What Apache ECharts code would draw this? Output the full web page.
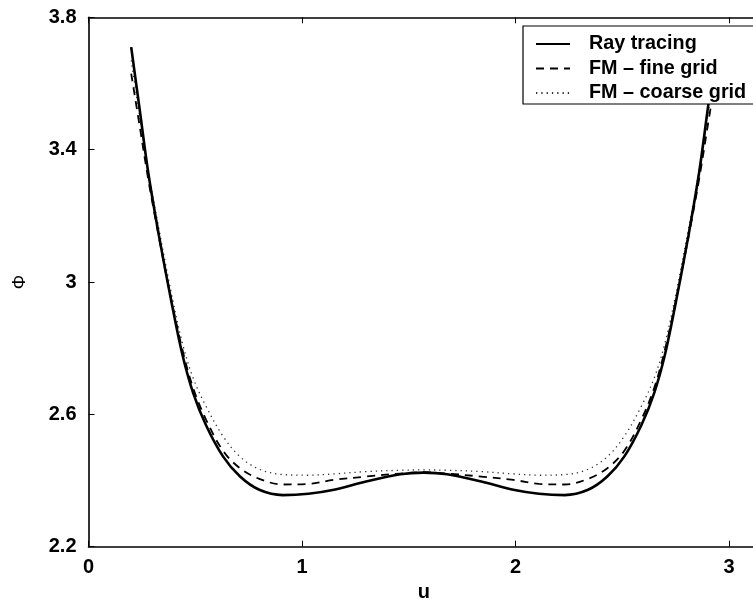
<!DOCTYPE html>
<html>
<head>
<meta charset="utf-8">
<script src="https://cdn.jsdelivr.net/npm/echarts@6/dist/echarts.min.js"></script>
<style>
  html, body { margin: 0; padding: 0; background: #fff; }
  #chart { width: 753px; height: 601px; }
</style>
</head>
<body>
<div id="chart"></div>
<script>
// Sample positions along u
const uValues = [0.20, 0.24, 0.28, 0.33, 0.39, 0.44, 0.49, 0.55, 0.63, 0.71, 0.80, 0.91, 1.03, 1.15, 1.30, 1.46, 1.57,
                 1.68, 1.84, 1.99, 2.11, 2.23, 2.34, 2.43, 2.51, 2.59, 2.65, 2.70, 2.75, 2.81, 2.86, 2.90, 2.94];

// Phi computed by each method
const rayTracing = [3.71, 3.52, 3.33, 3.14, 2.935, 2.78, 2.665, 2.568, 2.473, 2.412, 2.372, 2.356, 2.360, 2.372, 2.397, 2.419, 2.424,
                    2.419, 2.397, 2.372, 2.360, 2.356, 2.372, 2.412, 2.473, 2.568, 2.665, 2.78, 2.935, 3.14, 3.33, 3.52, 3.71];
const fmFine = [3.63, 3.47, 3.31, 3.135, 2.94, 2.795, 2.68, 2.585, 2.49, 2.437, 2.405, 2.388, 2.390, 2.402, 2.412, 2.421, 2.425,
                2.421, 2.412, 2.402, 2.390, 2.388, 2.405, 2.437, 2.49, 2.585, 2.68, 2.795, 2.94, 3.135, 3.31, 3.47, 3.63];
const fmCoarse = [3.67, 3.50, 3.335, 3.16, 2.96, 2.815, 2.71, 2.625, 2.534, 2.472, 2.434, 2.418, 2.416, 2.420, 2.427, 2.431, 2.432,
                  2.431, 2.427, 2.420, 2.416, 2.418, 2.434, 2.472, 2.534, 2.625, 2.71, 2.815, 2.96, 3.16, 3.335, 3.50, 3.67];

const seriesNames = ['Ray tracing', 'FM \u2013 fine grid', 'FM \u2013 coarse grid'];
const xTicks = [0, 1, 2, 3];
const yTicks = [2.2, 2.6, 3, 3.4, 3.8];

const FONT = 'Liberation Sans, Arial, Helvetica, sans-serif';
const pairs = (ys) => uValues.map((u, i) => [u, ys[i]]);

const chart = echarts.init(document.getElementById('chart'), null, { renderer: 'canvas' });

const axisLineStyle = { color: '#000', width: 1.6 };

chart.setOption({
  animation: false,
  backgroundColor: '#fff',
  grid: { left: 88.5, top: 17.3, width: 670.7, height: 529.4, containLabel: false, outerBoundsMode: 'none' },
  legend: {
    orient: 'vertical',
    left: 523,
    top: 26,
    padding: [8, 12, 1, 12],
    itemWidth: 34,
    itemHeight: 14,
    itemGap: 4.5,
    backgroundColor: '#fff',
    borderColor: '#000',
    borderWidth: 1.2,
    borderRadius: 0,
    itemStyle: { opacity: 0 },
    textStyle: { fontFamily: FONT, fontWeight: 'bold', fontSize: 19.8, lineHeight: 20, color: '#000', padding: [0, 0, 0, 14] },
    data: seriesNames
  },
  xAxis: [{
    type: 'value',
    min: 0,
    max: Math.PI,
    interval: 1,
    name: 'u',
    nameLocation: 'middle',
    nameGap: 36,
    nameTextStyle: { fontFamily: FONT, fontWeight: 'bold', fontSize: 20, color: '#000' },
    axisLine: { lineStyle: axisLineStyle },
    axisTick: { inside: true, length: 6, lineStyle: { color: '#000', width: 1 }, customValues: xTicks },
    axisLabel: { fontFamily: FONT, fontWeight: 'bold', fontSize: 20, color: '#000', margin: 11, customValues: xTicks },
    splitLine: { show: false }
  }, {
    type: 'value',
    position: 'top',
    min: 0,
    max: Math.PI,
    interval: 1,
    axisLine: { onZero: false, lineStyle: axisLineStyle },
    axisTick: { inside: true, length: 6, lineStyle: { color: '#000', width: 1 }, customValues: xTicks },
    axisLabel: { show: false },
    splitLine: { show: false }
  }],
  yAxis: {
    type: 'value',
    min: 2.2,
    max: 3.8,
    interval: 0.4,
    name: '\u03A6',
    nameLocation: 'middle',
    nameGap: 59,
    nameRotate: 90,
    nameTextStyle: { fontFamily: FONT, fontSize: 18, color: '#000' },
    axisLine: { lineStyle: axisLineStyle },
    axisTick: { inside: true, length: 6, lineStyle: { color: '#000', width: 1 }, customValues: yTicks },
    axisLabel: {
      fontFamily: FONT, fontWeight: 'bold', fontSize: 20, color: '#000', margin: 12,
      customValues: yTicks,
      formatter: (v) => String(Math.round(v * 10) / 10)
    },
    splitLine: { show: false }
  },
  series: [
    {
      name: seriesNames[0], type: 'line', data: pairs(rayTracing),
      smooth: 0.35, symbol: 'none',
      lineStyle: { color: '#000', width: 2.6, type: 'solid' },
      itemStyle: { color: '#000' }, z: 3
    },
    {
      name: seriesNames[1], type: 'line', data: pairs(fmFine),
      smooth: 0.35, symbol: 'none',
      lineStyle: { color: '#000', width: 1.8, type: [8, 6] },
      itemStyle: { color: '#000' }, z: 2
    },
    {
      name: seriesNames[2], type: 'line', data: pairs(fmCoarse),
      smooth: 0.35, symbol: 'none',
      lineStyle: { color: '#333', width: 1.3, type: [1.3, 4] },
      itemStyle: { color: '#333' }, z: 1
    }
  ]
});
</script>
</body>
</html>
